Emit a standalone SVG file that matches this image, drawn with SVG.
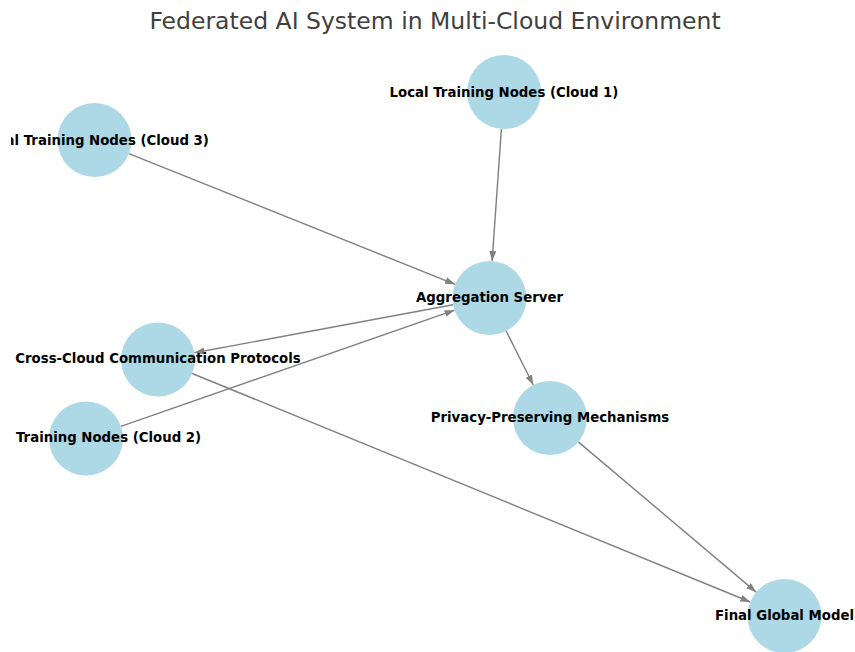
<svg xmlns="http://www.w3.org/2000/svg" width="855" height="652" viewBox="0 0 855 652">
  <style>
    .title { font-family: "DejaVu Sans", "Liberation Sans", sans-serif; font-size: 23.5px; fill: #404040; text-anchor: middle; }
    .node circle { fill: #ADD8E6; }
    .node text { font-family: "DejaVu Sans", "Liberation Sans", sans-serif; font-size: 13.3px; font-weight: bold; fill: #000; text-anchor: middle; dominant-baseline: central; }
    .node text.left { text-anchor: start; }
    .edges line { stroke: #808080; stroke-width: 1.4; marker-end: url(#arrow); }
  </style>
  <defs>
    <marker id="arrow" markerUnits="userSpaceOnUse" markerWidth="10" markerHeight="8" refX="10" refY="3.5" orient="auto">
      <path d="M0,0 L10,3.5 L0,7 z" fill="#808080"/>
    </marker>
    <!-- plot area: labels running past its left side are trimmed -->
    <clipPath id="plot-area">
      <rect x="11" y="0" width="844" height="652"/>
    </clipPath>
  </defs>
  <rect width="855" height="652" fill="#fff"/>
  <text class="title" x="435" y="29">Federated AI System in Multi-Cloud Environment</text>

  <g id="edges" class="edges">
    <line x1="501.4" y1="128.9" x2="492.1" y2="261.1"/>
    <line x1="128.9" y1="153.7" x2="455.1" y2="284.3"/>
    <line x1="453.1" y1="304.7" x2="194.4" y2="352.8"/>
    <line x1="120.9" y1="426.3" x2="454.6" y2="310.2"/>
    <line x1="506.2" y1="331" x2="533.3" y2="385"/>
    <line x1="578.3" y1="441.9" x2="756.2" y2="592.1"/>
    <line x1="192.2" y1="373.5" x2="750.3" y2="602"/>
  </g>

  <g id="node-cloud1" class="node">
    <circle cx="504" cy="92" r="37"/>
    <text x="504" y="92">Local Training Nodes (Cloud 1)</text>
  </g>
  <g id="node-cloud3" class="node">
    <circle cx="94.5" cy="140" r="37"/>
    <text x="94.5" y="140" clip-path="url(#plot-area)">Local Training Nodes (Cloud 3)</text>
  </g>
  <g id="node-aggregation" class="node">
    <circle cx="489.5" cy="298" r="37"/>
    <text x="489.5" y="297">Aggregation Server</text>
  </g>
  <g id="node-crosscloud" class="node">
    <circle cx="158" cy="359.5" r="37"/>
    <text x="158" y="358.5">Cross-Cloud Communication Protocols</text>
  </g>
  <g id="node-cloud2" class="node">
    <circle cx="86" cy="438.5" r="37"/>
    <text class="left" x="16" y="437.5">Training Nodes (Cloud 2)</text>
  </g>
  <g id="node-privacy" class="node">
    <circle cx="550" cy="418" r="37"/>
    <text x="550" y="417">Privacy-Preserving Mechanisms</text>
  </g>
  <g id="node-final" class="node">
    <circle cx="784.5" cy="616" r="37"/>
    <text x="784.5" y="615">Final Global Model</text>
  </g>
</svg>
